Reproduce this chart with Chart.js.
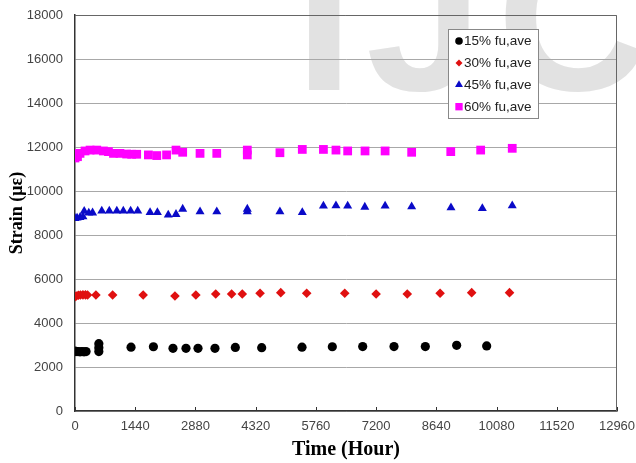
<!DOCTYPE html>
<html><head><meta charset="utf-8">
<script src="https://cdn.jsdelivr.net/npm/chart.js@4/dist/chart.umd.min.js"></script>
<style>html,body{margin:0;padding:0;background:#fff}#wrap{width:636px;height:463px;position:relative}</style>
</head><body><div id="wrap"><canvas id="c" width="636" height="463"></canvas></div>
<script>
// ---- data ----
const xTickValues = [0,1440,2880,4320,5760,7200,8640,10080,11520,12960];
const yTickValues = [0,2000,4000,6000,8000,10000,12000,14000,16000,18000];
const seriesLabels = ['15% fu,ave','30% fu,ave','45% fu,ave','60% fu,ave'];

const hours15  = [0,24,72,120,168,216,264,570,570,570,1340,1875,2343,2654,2941,3347,3834,4464,5428,6153,6879,7628,8377,9126,9844];
const strain15 = [2720,2700,2700,2690,2700,2690,2700,2700,2880,3060,2900,2920,2850,2850,2850,2850,2890,2880,2900,2920,2930,2930,2930,2985,2960];

const hours30  = [0,30,80,130,190,250,300,500,900,1630,2390,2890,3365,3745,4000,4425,4920,5540,6450,7200,7945,8730,9485,10390];
const strain30 = [5200,5230,5260,5270,5280,5280,5270,5270,5270,5270,5230,5270,5320,5320,5320,5350,5380,5350,5350,5320,5320,5350,5380,5380];

const hours45  = [0,50,120,190,220,330,420,640,820,1000,1155,1330,1500,1795,1970,2230,2415,2575,2990,3390,4120,4120,4900,5435,5940,6240,6520,6930,7415,8050,8990,9740,10455];
const strain45 = [8760,8780,8800,8830,9080,9000,9010,9090,9090,9090,9090,9090,9090,9030,9030,8910,8940,9180,9060,9060,9180,9060,9060,9030,9320,9330,9320,9270,9320,9290,9240,9210,9330];

const hours60  = [0,0,60,120,240,360,520,680,800,920,1075,1235,1355,1475,1755,1955,2190,2415,2575,2990,3390,4120,4120,4900,5435,5940,6240,6520,6935,7415,8050,8985,9700,10455];
const strain60 = [11500,11700,11560,11710,11820,11860,11860,11820,11790,11710,11710,11680,11670,11670,11640,11610,11640,11860,11760,11710,11710,11860,11640,11740,11890,11890,11860,11820,11820,11820,11760,11790,11860,11940];

function pts(xs, ys){ return xs.map((x,i)=>({x:x, y:ys[i]})); }

const sansFont = "'Liberation Sans', Arial, sans-serif";
const serifFont = "'Liberation Serif', 'Times New Roman', serif";

const bgPlugin = {
  id:'bg',
  beforeDraw(chart){
    const ctx = chart.ctx;
    ctx.save();
    ctx.fillStyle = '#fff';
    ctx.fillRect(0,0,chart.width,chart.height);
    // faint watermark
    ctx.fillStyle = '#e2e2e2';
    ctx.font = "bold 210px " + sansFont;
    ctx.textBaseline = 'alphabetic';
    ctx.fillText('I', 295, 90);
    ctx.fillText('J', 366, 90);
    ctx.fillText('C', 497, 90);
    ctx.restore();
  }
};

const framePlugin = {
  id:'frame',
  afterDraw(chart){
    const ctx = chart.ctx, a = chart.chartArea, xs = chart.scales.x;
    ctx.save();
    ctx.strokeStyle = '#666';
    ctx.lineWidth = 1;
    ctx.beginPath();
    ctx.moveTo(a.left, a.top+0.5); ctx.lineTo(a.right-0.5, a.top+0.5); ctx.lineTo(a.right-0.5, a.bottom);
    ctx.stroke();
    // inner tick marks on x axis
    ctx.strokeStyle = '#333';
    ctx.beginPath();
    xTickValues.forEach(v=>{
      const px = Math.round(xs.getPixelForValue(v))+0.5;
      ctx.moveTo(px, a.bottom); ctx.lineTo(px, a.bottom-4);
    });
    ctx.stroke();

    // legend
    const bx = 448.5, by = 29.5, bw = 90, bh = 89;
    ctx.fillStyle = '#fff';
    ctx.fillRect(bx, by, bw, bh);
    ctx.strokeStyle = '#888';
    ctx.strokeRect(bx, by, bw, bh);
    ctx.font = "13.5px " + sansFont;
    ctx.textBaseline = 'middle';
    ctx.textAlign = 'left';
    chart.data.datasets.forEach((ds,i)=>{
      const cy = 41 + i*21.9;
      const mx = 459;
      const opts = {pointStyle: ds.pointStyle, radius: ds.legendRadius, rotation:0, borderWidth:0};
      ctx.fillStyle = ds.backgroundColor;
      ctx.strokeStyle = ds.backgroundColor;
      if (Chart.helpers && Chart.helpers.drawPoint) {
        Chart.helpers.drawPoint(ctx, opts, mx, cy);
      }
      ctx.fillStyle = '#222';
      ctx.fillText(ds.label, 464, cy+0.5);
    });
    ctx.restore();
  }
};

new Chart(document.getElementById('c'), {
  type:'scatter',
  data:{
    datasets:[
      {label:seriesLabels[0], data:pts(hours15,strain15), pointStyle:'circle', pointRadius:4.6, backgroundColor:'#000', borderColor:'#000', borderWidth:0, legendRadius:3.8},
      {label:seriesLabels[1], data:pts(hours30,strain30), pointStyle:'rectRot', pointRadius:4.8, backgroundColor:'#e01010', borderColor:'#e01010', borderWidth:0, legendRadius:3.5},
      {label:seriesLabels[2], data:pts(hours45,strain45), pointStyle:'triangle', pointRadius:5.2, backgroundColor:'#0a0ac8', borderColor:'#0a0ac8', borderWidth:0, legendRadius:4.6},
      {label:seriesLabels[3], data:pts(hours60,strain60), pointStyle:'rect', pointRadius:6.2, backgroundColor:'#ff00ff', borderColor:'#ff00ff', borderWidth:0, legendRadius:5.2}
    ]
  },
  options:{
    responsive:false,
    animation:false,
    layout:{padding:{top:15, right:19, left:0, bottom:0}},
    plugins:{legend:{display:false}, tooltip:{enabled:false}},
    scales:{
      x:{
        type:'linear', min:0, max:12960,
        afterBuildTicks(s){ s.ticks = xTickValues.map(v=>({value:v})); },
        afterFit(s){ s.height = 52; s.paddingLeft = 0; s.paddingRight = 0; },
        ticks:{font:{family:sansFont, size:13}, color:'#444', padding:8, maxRotation:0, autoSkip:false, callback:v=>String(v)},
        grid:{drawOnChartArea:false, drawTicks:false},
        border:{display:true, color:'#333', width:1.5},
        title:{display:true, text:'Time (Hour)', font:{family:serifFont, size:20, weight:'bold'}, color:'#000', padding:{top:1, bottom:1}}
      },
      y:{
        type:'linear', min:0, max:18000,
        afterBuildTicks(s){ s.ticks = yTickValues.map(v=>({value:v})); },
        afterFit(s){ s.width = 75; s.paddingTop = 0; s.paddingBottom = 0; },
        ticks:{font:{family:sansFont, size:13}, color:'#444', padding:12, callback:v=>String(v)},
        grid:{color:'#a8a8a8', lineWidth:1, drawTicks:false},
        border:{display:true, color:'#333', width:1.5},
        title:{display:true, text:'Strain (με)', font:{family:serifFont, size:18, weight:'bold'}, color:'#000', padding:{top:7, bottom:0}}
      }
    }
  },
  plugins:[bgPlugin, framePlugin]
});
</script>
</body></html>
